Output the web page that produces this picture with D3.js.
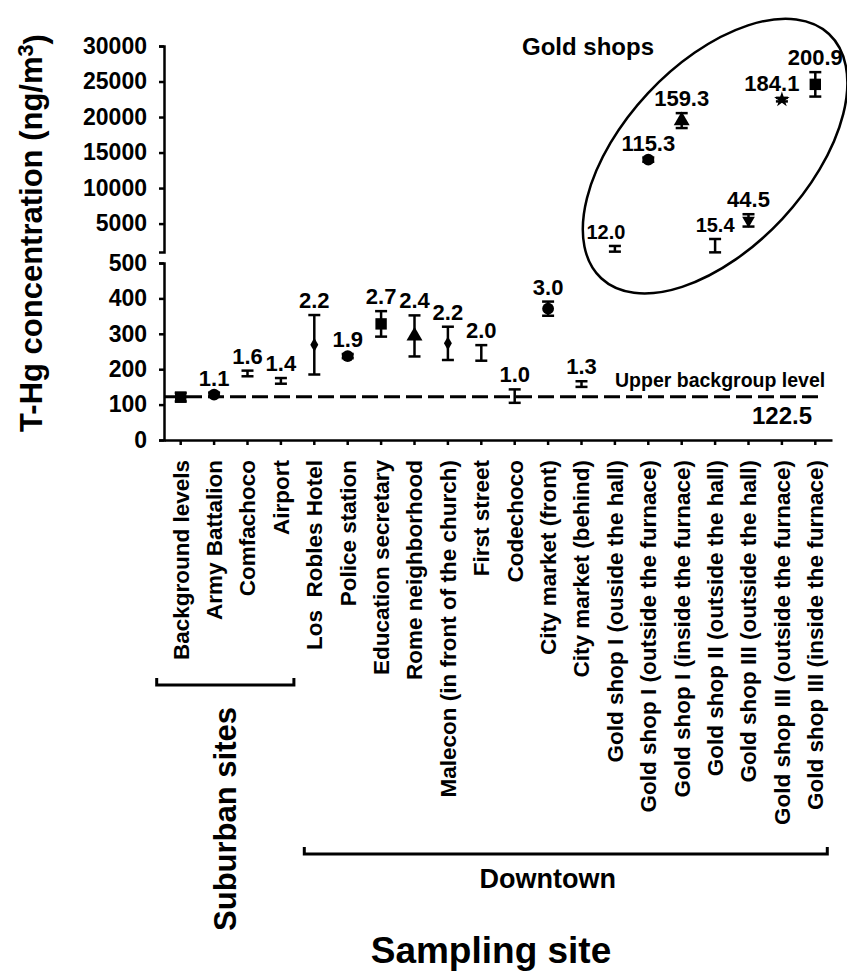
<!DOCTYPE html>
<html>
<head>
<meta charset="utf-8">
<script src="https://cdn.jsdelivr.net/npm/d3@7"></script>
<style>
  body { margin: 0; background: #fff; }
  text { font-family: "Liberation Sans", Arial, sans-serif; font-weight: bold; fill: #000; white-space: pre; }
</style>
</head>
<body>
<svg></svg>
<script>
const width = 847;
const height = 972;

// sampling sites along the x axis
const sites = [
  'Background levels', 'Army Battalion', 'Comfachoco', 'Airport',
  'Los  Robles Hotel', 'Police station', 'Education secretary', 'Rome neighborhood',
  'Malecon (in front of the church)', 'First street', 'Codechoco',
  'City market (front)', 'City market (behind)',
  'Gold shop I (ouside the hall)', 'Gold shop I (outside the furnace)',
  'Gold shop I (inside the furnace)', 'Gold shop II (outside the hall)',
  'Gold shop III (outside the hall)', 'Gold shop III (outside the furnace)',
  'Gold shop III (inside the furnace)'
];

// mean T-Hg (ng/m3) and error (+/-)
const meanConc = [121, 128, 188, 167, 269, 237, 328, 294, 273, 246, 124, 371, 158,
  1450, 14000, 19500, 1890, 5450, 22450, 24600];
const errConc = [12, 6, 8, 8, 84, 6, 36, 58, 47, 22, 19, 20, 8,
  400, 300, 1050, 940, 870, 250, 1720];

// ratio to background printed above each point
const ratioLabels = ['', '1.1', '1.6', '1.4', '2.2', '1.9', '2.7', '2.4', '2.2', '2.0', '1.0',
  '3.0', '1.3', '12.0', '115.3', '159.3', '15.4', '44.5', '184.1', '200.9'];

const yTicksLow = [0, 100, 200, 300, 400, 500];
const yTicksHigh = [5000, 10000, 15000, 20000, 25000, 30000];
const backgroundLevel = 122.5;

const groups = [
  { name: 'Suburban sites', from: 0, to: 3 },
  { name: 'Downtown', from: 4, to: 19 }
];

// marker shape per site (style only)
const markerShape = ['square', 'circle', 'none', 'none', 'diamond', 'circle', 'square', 'triangle',
  'diamond', 'none', 'none', 'circle', 'none', 'none', 'circle', 'triangle', 'none', 'triangleDown',
  'star', 'square'];
const labelShift = { 13: -9, 18: -10 };
const smallLabel = [13, 16];

const svg = d3.select('svg')
  .attr('width', width)
  .attr('height', height);

const x = d3.scaleBand()
  .domain(sites)
  .range([164, 832]);

const yLow = d3.scaleLinear()
  .domain([0, 500])
  .range([440, 263]);

const yHigh = d3.scaleLinear()
  .domain([1000, 30000])
  .range([252, 46]);

const yScaleFor = v => v > 500 ? yHigh : yLow;
const cx = i => x(sites[i]) + x.bandwidth() / 2;

const styleAxis = (g) => {
  g.select('.domain').attr('stroke', '#000').attr('stroke-width', 2.5);
  g.selectAll('.tick line').attr('stroke', '#000').attr('stroke-width', 2.5);
  g.attr('font-family', null).attr('font-size', 23);
};

// y axes (broken)
svg.append('g')
  .attr('transform', 'translate(164,0)')
  .call(d3.axisLeft(yHigh).tickValues(yTicksHigh).tickSize(5).tickSizeOuter(5)
    .tickPadding(12).tickFormat(d3.format('d')))
  .call(styleAxis);

svg.append('g')
  .attr('transform', 'translate(164,0)')
  .call(d3.axisLeft(yLow).tickValues(yTicksLow).tickSize(5).tickSizeOuter(5)
    .tickPadding(12).tickFormat(d3.format('d')))
  .call(styleAxis);

// x axis
const xAxisG = svg.append('g')
  .attr('transform', 'translate(0,440)')
  .call(d3.axisBottom(x).tickSize(5).tickSizeOuter(0))
  .call(styleAxis);

xAxisG.selectAll('.tick text')
  .attr('font-size', 22.5)
  .attr('text-anchor', 'end')
  .attr('transform', 'rotate(-90)')
  .attr('x', -20)
  .attr('y', 0)
  .attr('dy', '0.35em');

// background level line
svg.append('line')
  .attr('x1', 164)
  .attr('x2', 824)
  .attr('y1', yLow(backgroundLevel))
  .attr('y2', yLow(backgroundLevel))
  .attr('stroke', '#000')
  .attr('stroke-width', 3)
  .attr('stroke-dasharray', '16,6');

svg.append('text')
  .attr('x', 615)
  .attr('y', yLow(backgroundLevel) - 10)
  .attr('font-size', 19.5)
  .text('Upper backgroup level');

svg.append('text')
  .attr('x', 812)
  .attr('y', yLow(backgroundLevel) + 27)
  .attr('text-anchor', 'end')
  .attr('font-size', 24)
  .text(backgroundLevel);

// error bars
const points = meanConc.map((m, i) => ({ i, m, e: errConc[i], y: yScaleFor(m) }));

const bars = svg.append('g')
  .selectAll('g')
  .data(points)
  .enter()
  .append('g')
  .attr('stroke', '#000')
  .attr('stroke-width', 2.5);

bars.append('line')
  .attr('x1', d => cx(d.i))
  .attr('x2', d => cx(d.i))
  .attr('y1', d => d.y(d.m - d.e))
  .attr('y2', d => d.y(d.m + d.e));

bars.selectAll('.cap')
  .data(d => [d.m - d.e, d.m + d.e].map(v => ({ i: d.i, yy: d.y(v) })))
  .enter()
  .append('line')
  .attr('x1', d => cx(d.i) - 6)
  .attr('x2', d => cx(d.i) + 6)
  .attr('y1', d => d.yy)
  .attr('y2', d => d.yy);

// markers
const symbolOf = {
  square: d3.symbolSquare,
  circle: d3.symbolCircle,
  diamond: d3.symbolDiamond,
  triangle: d3.symbolTriangle,
  triangleDown: d3.symbolTriangle,
  star: d3.symbolStar
};
const sizeOf = { square: 130, circle: 110, diamond: 55, triangle: 110, triangleDown: 70, star: 75 };

svg.append('g')
  .selectAll('path')
  .data(points.filter(d => markerShape[d.i] !== 'none'))
  .enter()
  .append('path')
  .attr('d', d => d3.symbol().type(symbolOf[markerShape[d.i]]).size(sizeOf[markerShape[d.i]])())
  .attr('transform', d => `translate(${cx(d.i)},${d.y(d.m)})` +
    (markerShape[d.i] === 'triangleDown' ? ' rotate(180)' : ''))
  .attr('fill', '#000');

// ratio labels
svg.append('g')
  .selectAll('text')
  .data(points.filter(d => ratioLabels[d.i]))
  .enter()
  .append('text')
  .attr('x', d => cx(d.i) + (labelShift[d.i] || 0))
  .attr('y', d => d.y(d.m + d.e) - 7)
  .attr('text-anchor', 'middle')
  .attr('font-size', d => smallLabel.includes(d.i) ? 20 : 22)
  .text(d => ratioLabels[d.i]);

// gold shop ellipse
const ellX = (cx(13) + cx(19)) / 2;
const ellY = yHigh(14500);
svg.append('ellipse')
  .attr('transform', `translate(${ellX},${ellY}) rotate(-47)`)
  .attr('rx', 167)
  .attr('ry', 92)
  .attr('fill', 'none')
  .attr('stroke', '#000')
  .attr('stroke-width', 2.5);

svg.append('text')
  .attr('x', 522)
  .attr('y', 55)
  .attr('font-size', 24)
  .text('Gold shops');

// group brackets
const bracketPad = [[-24, 13], [-10, 12]];
groups.forEach((g, k) => {
  const x0 = cx(g.from) + bracketPad[k][0];
  const x1 = cx(g.to) + bracketPad[k][1];
  const yb = k === 0 ? 685 : 854;
  svg.append('path')
    .attr('d', `M${x0},${yb - 7}V${yb}H${x1}V${yb - 7}`)
    .attr('fill', 'none')
    .attr('stroke', '#000')
    .attr('stroke-width', 3);
});

svg.append('text')
  .attr('transform', 'translate(236,819) rotate(-90)')
  .attr('text-anchor', 'middle')
  .attr('font-size', 31)
  .text(groups[0].name);

svg.append('text')
  .attr('x', (cx(groups[1].from) + cx(groups[1].to)) / 2 - 17)
  .attr('y', 888)
  .attr('text-anchor', 'middle')
  .attr('font-size', 27)
  .text(groups[1].name);

// axis titles
svg.append('text')
  .attr('x', 491)
  .attr('y', 963)
  .attr('text-anchor', 'middle')
  .attr('font-size', 37)
  .text('Sampling site');

const yTitle = svg.append('text')
  .attr('transform', 'translate(42,233) rotate(-90)')
  .attr('text-anchor', 'middle')
  .attr('font-size', 31);
yTitle.append('tspan').text('T-Hg concentration (ng/m');
yTitle.append('tspan').attr('dy', '-0.4em').attr('font-size', '0.7em').text('3');
yTitle.append('tspan').attr('dy', '0.4em').text(')');
</script>
</body>
</html>
